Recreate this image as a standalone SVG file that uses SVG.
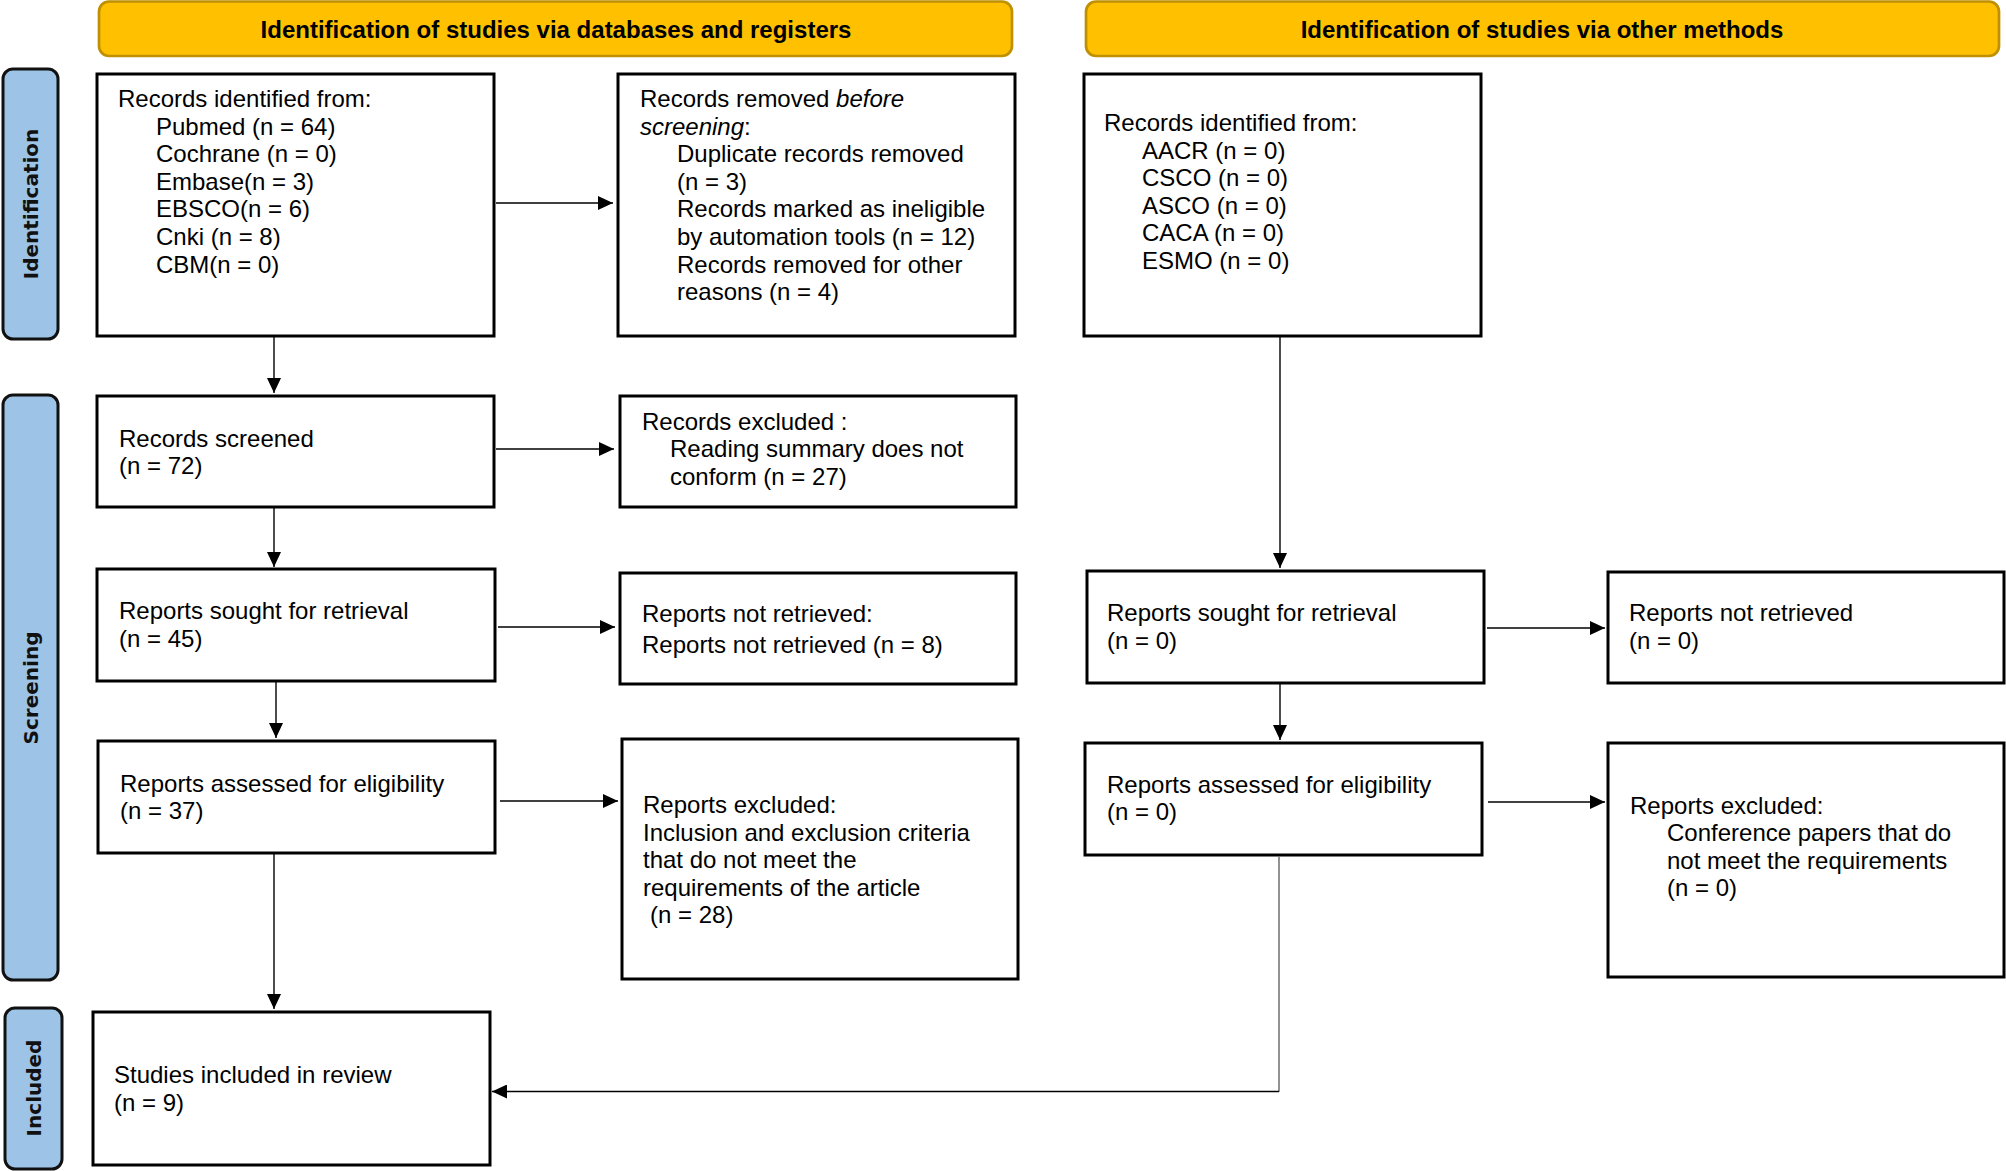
<svg xmlns="http://www.w3.org/2000/svg" width="2006" height="1171" viewBox="0 0 2006 1171">
<style>
.hdr{fill:#FFC000;stroke:#BF9000;stroke-width:2.7}
.hdrt{font-family:"Liberation Sans",Arial,sans-serif;font-size:24px;font-weight:bold;fill:#000;text-anchor:middle}
.side{fill:#9DC3E6;stroke:#111;stroke-width:3}
.sidet{font-family:"DejaVu Sans",Verdana,sans-serif;font-size:20px;font-weight:bold;fill:#111;text-anchor:middle}
.box{fill:#fff;stroke:#000;stroke-width:3}
.t{font-family:"Liberation Sans",Arial,sans-serif;font-size:24px;fill:#000}
.c{fill:none;stroke:#000;stroke-width:1.4}
</style>
<defs>
<marker id="arr" markerUnits="userSpaceOnUse" markerWidth="16" markerHeight="14" refX="15" refY="7" orient="auto">
<path d="M0,0 L15,7 L0,14 z" fill="#000"/>
</marker>
</defs>
<rect width="2006" height="1171" fill="#fff"/>

<g id="header-databases">
<rect class="hdr" x="99" y="1.5" width="913" height="54.5" rx="10"/>
<text class="hdrt" x="556" y="38">Identification of studies via databases and registers</text>
</g>
<g id="header-other">
<rect class="hdr" x="1086" y="1.5" width="913" height="54.5" rx="10"/>
<text class="hdrt" x="1542" y="38">Identification of studies via other methods</text>
</g>

<g id="side-identification">
<rect class="side" x="3" y="69" width="55" height="270" rx="10"/>
<text class="sidet" transform="translate(38,204) rotate(-90)">Identification</text>
</g>
<g id="side-screening">
<rect class="side" x="3" y="395" width="55" height="585" rx="10"/>
<text class="sidet" transform="translate(38,688) rotate(-90)">Screening</text>
</g>
<g id="side-included">
<rect class="side" x="5" y="1008" width="57" height="161" rx="10"/>
<text class="sidet" transform="translate(40.5,1088) rotate(-90)">Included</text>
</g>

<g id="records-identified-db">
<rect class="box" x="97" y="74" width="397" height="262"/>
<text class="t" x="118" y="107">Records identified from:</text>
<text class="t" x="156" y="134.6">Pubmed (n = 64)</text>
<text class="t" x="156" y="162.2">Cochrane (n = 0)</text>
<text class="t" x="156" y="189.8">Embase(n = 3)</text>
<text class="t" x="156" y="217.4">EBSCO(n = 6)</text>
<text class="t" x="156" y="245">Cnki (n = 8)</text>
<text class="t" x="156" y="272.6">CBM(n = 0)</text>
</g>

<g id="records-removed">
<rect class="box" x="618" y="74" width="397" height="262"/>
<text class="t" x="640" y="107">Records removed <tspan font-style="italic">before</tspan></text>
<text class="t" x="640" y="134.6"><tspan font-style="italic">screening</tspan>:</text>
<text class="t" x="677" y="162.2">Duplicate records removed</text>
<text class="t" x="677" y="189.8">(n = 3)</text>
<text class="t" x="677" y="217.4">Records marked as ineligible</text>
<text class="t" x="677" y="245">by automation tools (n = 12)</text>
<text class="t" x="677" y="272.6">Records removed for other</text>
<text class="t" x="677" y="300.2">reasons (n = 4)</text>
</g>

<g id="records-identified-other">
<rect class="box" x="1084" y="74" width="397" height="262"/>
<text class="t" x="1104" y="131">Records identified from:</text>
<text class="t" x="1142" y="158.6">AACR (n = 0)</text>
<text class="t" x="1142" y="186.2">CSCO (n = 0)</text>
<text class="t" x="1142" y="213.8">ASCO (n = 0)</text>
<text class="t" x="1142" y="241.4">CACA (n = 0)</text>
<text class="t" x="1142" y="269">ESMO (n = 0)</text>
</g>

<g id="records-screened">
<rect class="box" x="97" y="396" width="397" height="111"/>
<text class="t" x="119" y="446.5">Records screened</text>
<text class="t" x="119" y="474">(n = 72)</text>
</g>

<g id="records-excluded">
<rect class="box" x="620" y="396" width="396" height="111"/>
<text class="t" x="642" y="429.5">Records excluded :</text>
<text class="t" x="670" y="457">Reading summary does not</text>
<text class="t" x="670" y="484.5">conform (n = 27)</text>
</g>

<g id="reports-sought-db">
<rect class="box" x="97" y="569" width="398" height="112"/>
<text class="t" x="119" y="619">Reports sought for retrieval</text>
<text class="t" x="119" y="646.5">(n = 45)</text>
</g>

<g id="reports-not-retrieved-db">
<rect class="box" x="620" y="573" width="396" height="111"/>
<text class="t" x="642" y="622">Reports not retrieved:</text>
<text class="t" x="642" y="653">Reports not retrieved (n = 8)</text>
</g>

<g id="reports-sought-other">
<rect class="box" x="1087" y="571" width="397" height="112"/>
<text class="t" x="1107" y="621">Reports sought for retrieval</text>
<text class="t" x="1107" y="648.5">(n = 0)</text>
</g>

<g id="reports-not-retrieved-other">
<rect class="box" x="1608" y="572" width="396" height="111"/>
<text class="t" x="1629" y="621">Reports not retrieved</text>
<text class="t" x="1629" y="648.5">(n = 0)</text>
</g>

<g id="reports-assessed-db">
<rect class="box" x="98" y="741" width="397" height="112"/>
<text class="t" x="120" y="791.5">Reports assessed for eligibility</text>
<text class="t" x="120" y="819">(n = 37)</text>
</g>

<g id="reports-excluded-db">
<rect class="box" x="622" y="739" width="396" height="240"/>
<text class="t" x="643" y="813">Reports excluded:</text>
<text class="t" x="643" y="840.5">Inclusion and exclusion criteria</text>
<text class="t" x="643" y="868">that do not meet the</text>
<text class="t" x="643" y="895.5">requirements of the article</text>
<text class="t" x="650" y="923">(n = 28)</text>
</g>

<g id="reports-assessed-other">
<rect class="box" x="1085" y="743" width="397" height="112"/>
<text class="t" x="1107" y="792.5">Reports assessed for eligibility</text>
<text class="t" x="1107" y="820">(n = 0)</text>
</g>

<g id="reports-excluded-other">
<rect class="box" x="1608" y="743" width="396" height="234"/>
<text class="t" x="1630" y="813.5">Reports excluded:</text>
<text class="t" x="1667" y="841">Conference papers that do</text>
<text class="t" x="1667" y="868.5">not meet the requirements</text>
<text class="t" x="1667" y="896">(n = 0)</text>
</g>

<g id="studies-included">
<rect class="box" x="93" y="1012" width="397" height="153"/>
<text class="t" x="114" y="1083">Studies included in review</text>
<text class="t" x="114" y="1110.5">(n = 9)</text>
</g>

<g id="connectors">
<line class="c" x1="496" y1="203" x2="613" y2="203" marker-end="url(#arr)"/>
<line class="c" x1="274" y1="337" x2="274" y2="393" marker-end="url(#arr)"/>
<line class="c" x1="496" y1="449" x2="614" y2="449" marker-end="url(#arr)"/>
<line class="c" x1="274" y1="508" x2="274" y2="567" marker-end="url(#arr)"/>
<line class="c" x1="498" y1="627" x2="615" y2="627" marker-end="url(#arr)"/>
<line class="c" x1="276" y1="682" x2="276" y2="738" marker-end="url(#arr)"/>
<line class="c" x1="500" y1="801" x2="618" y2="801" marker-end="url(#arr)"/>
<line class="c" x1="274" y1="854" x2="274" y2="1009" marker-end="url(#arr)"/>
<line class="c" x1="1280" y1="337" x2="1280" y2="568" marker-end="url(#arr)"/>
<line class="c" x1="1487" y1="628" x2="1605" y2="628" marker-end="url(#arr)"/>
<line class="c" x1="1280" y1="684" x2="1280" y2="740" marker-end="url(#arr)"/>
<line class="c" x1="1488" y1="802" x2="1605" y2="802" marker-end="url(#arr)"/>
<line x1="1279" y1="856" x2="1279" y2="1091.7" stroke="#777" stroke-width="1.6"/>
<polyline class="c" points="1279,1091.5 492,1091.5" marker-end="url(#arr)"/>
</g>
</svg>
